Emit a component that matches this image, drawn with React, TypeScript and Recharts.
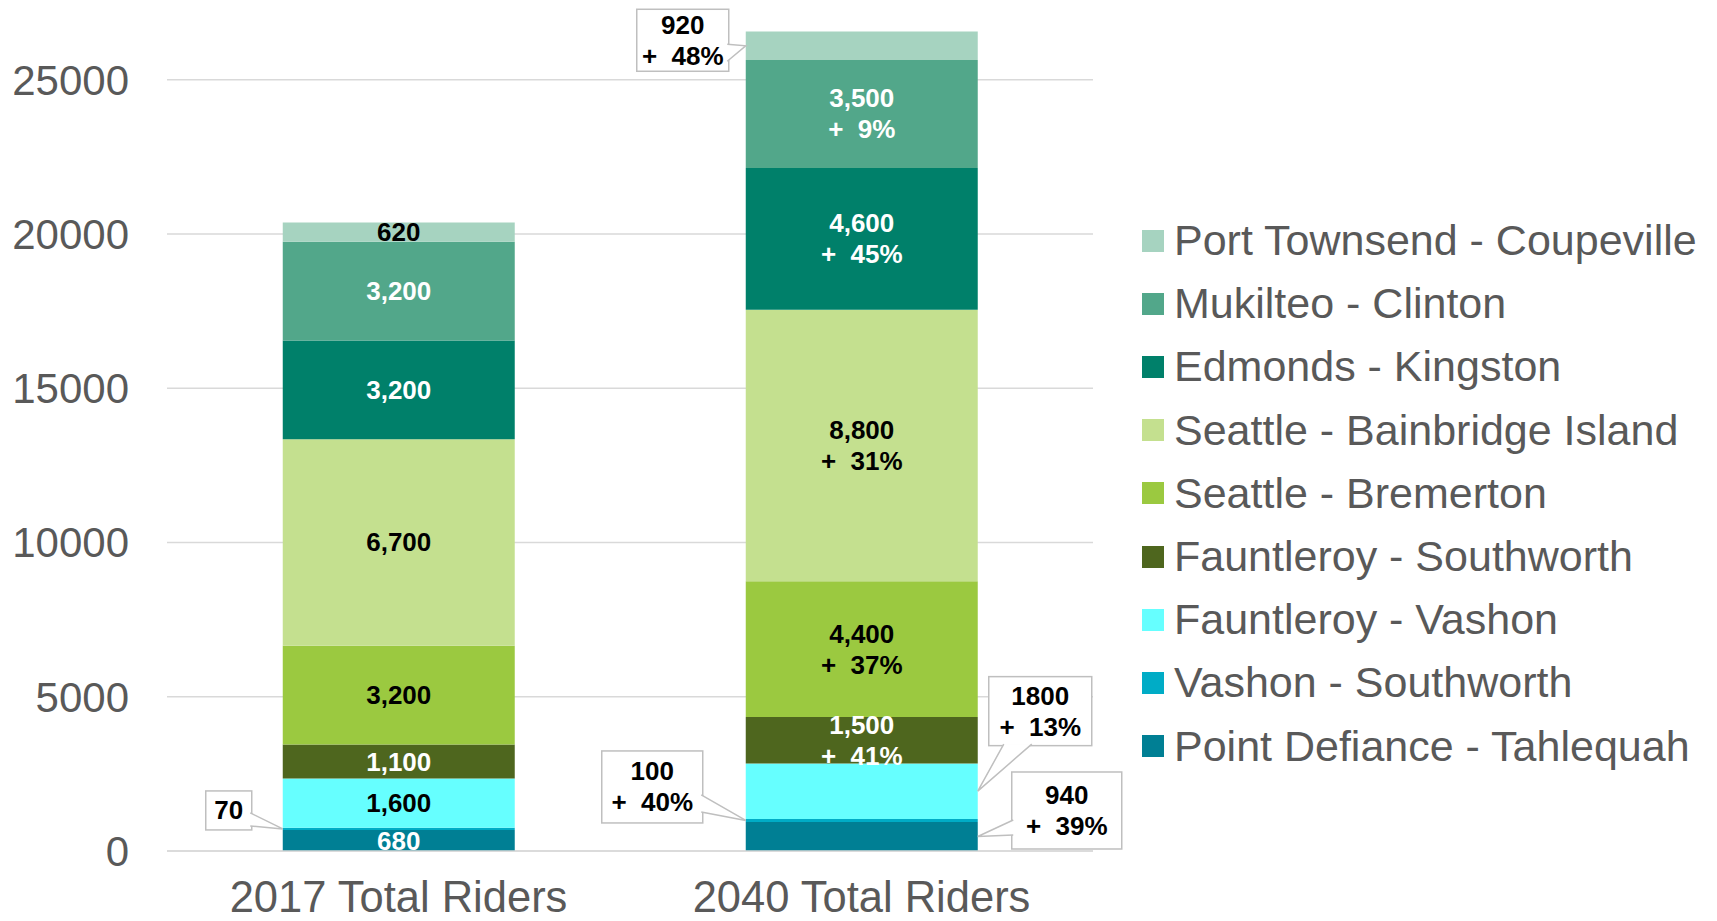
import { BarChart, Bar, XAxis, YAxis, CartesianGrid, LabelList } from "recharts";

// ridership per route, [2017, 2040]
const categories = ["2017 Total Riders", "2040 Total Riders"];
const pointDefiance = [680, 940];
const vashonSouthworth = [70, 100];
const fauntleroyVashon = [1600, 1800];
const fauntleroySouthworth = [1100, 1500];
const seattleBremerton = [3200, 4400];
const seattleBainbridge = [6700, 8800];
const edmondsKingston = [3200, 4600];
const mukilteoClinton = [3200, 3500];
const portTownsend = [620, 920];
// growth 2017 -> 2040 (%), same order as the series below
const growth2040 = [39, 40, 13, 41, 37, 31, 45, 9, 48];
const yTicks = [0, 5000, 10000, 15000, 20000, 25000];

const FONT = "'Liberation Sans', Arial, sans-serif";
const GREY = "#595959";
const BORDER = "#BFBFBF";
const GRID = "#D9D9D9";

const SERIES = [
  { key: "pointDefiance", name: "Point Defiance - Tahlequah", color: "#007F94", text: "#fff", values: pointDefiance },
  { key: "vashonSouthworth", name: "Vashon - Southworth", color: "#00ACC6", text: "#fff", values: vashonSouthworth },
  { key: "fauntleroyVashon", name: "Fauntleroy - Vashon", color: "#66FFFF", text: "#000", values: fauntleroyVashon },
  { key: "fauntleroySouthworth", name: "Fauntleroy - Southworth", color: "#4E661E", text: "#fff", values: fauntleroySouthworth },
  { key: "seattleBremerton", name: "Seattle - Bremerton", color: "#9BC940", text: "#000", values: seattleBremerton },
  { key: "seattleBainbridge", name: "Seattle - Bainbridge Island", color: "#C4E08F", text: "#000", values: seattleBainbridge },
  { key: "edmondsKingston", name: "Edmonds - Kingston", color: "#00806A", text: "#fff", values: edmondsKingston },
  { key: "mukilteoClinton", name: "Mukilteo - Clinton", color: "#52A78A", text: "#fff", values: mukilteoClinton },
  { key: "portTownsend", name: "Port Townsend - Coupeville", color: "#A6D3C0", text: "#000", values: portTownsend },
];

const data = categories.map((name, i) => {
  const row: Record<string, number | string> = { name };
  SERIES.forEach((s) => (row[s.key] = s.values[i]));
  return row;
});

// callout boxes for the thin segments: side of the bar, gap to bar edge,
// vertical offset of the box centre, box size, and where the pointer leaves the box
type Callout = { side: "left" | "right"; gap: number; dy: number; w: number; h: number; edge: "side" | "bottom"; base: [number, number] };
const CALLOUTS: Record<string, Callout> = {
  "vashonSouthworth-0": { side: "left", gap: 31, dy: -18.5, w: 46, h: 39, edge: "side", base: [22, 35] },
  "vashonSouthworth-1": { side: "left", gap: 43, dy: -33.5, w: 101, h: 72, edge: "side", base: [44, 61] },
  "fauntleroyVashon-1": { side: "right", gap: 11, dy: -80, w: 103, h: 69, edge: "bottom", base: [15, 43] },
  "pointDefiance-1": { side: "right", gap: 34, dy: -26, w: 110, h: 77, edge: "side", base: [48, 63] },
  "portTownsend-1": { side: "left", gap: 17, dy: -5.5, w: 92, h: 62, edge: "side", base: [35, 52] },
};

const LINE = 31;
const fmt = (v: number) => v.toLocaleString("en-US");

function Lines({ cx, cy, lines, fill }: { cx: number; cy: number; lines: string[]; fill: string }) {
  const top = cy - ((lines.length - 1) * LINE) / 2;
  return (
    <text x={cx} textAnchor="middle" fontFamily={FONT} fontWeight="bold" fontSize={26} fill={fill} style={{ whiteSpace: "pre" }}>
      {lines.map((l, i) => (
        <tspan key={i} x={cx} y={top + i * LINE} dominantBaseline="central">
          {l}
        </tspan>
      ))}
    </text>
  );
}

function renderLabel(props: any, si: number) {
  const s = SERIES[si];
  const x = Number(props.x);
  const y = Number(props.y);
  const width = Number(props.width);
  const height = Number(props.height);
  const index = props.index as number;
  const v = s.values[index];
  const pct = `+  ${growth2040[si]}%`;
  const c = CALLOUTS[`${s.key}-${index}`];

  if (c) {
    const lines = index === 1 ? [String(v), pct] : [String(v)];
    const ax = c.side === "left" ? x : x + width;
    const ay = y + height / 2;
    const bx = c.side === "left" ? ax - c.gap - c.w : ax + c.gap;
    const by = ay + c.dy - c.h / 2;
    let p1: [number, number];
    let p2: [number, number];
    if (c.edge === "side") {
      const ex = c.side === "left" ? bx + c.w - 1.5 : bx + 1.5;
      p1 = [ex, by + c.base[0]];
      p2 = [ex, by + c.base[1]];
    } else {
      const ey = by + c.h - 1.5;
      p1 = [bx + c.base[0], ey];
      p2 = [bx + c.base[1], ey];
    }
    return (
      <g>
        <rect x={bx} y={by} width={c.w} height={c.h} fill="#fff" stroke={BORDER} strokeWidth={1.5} />
        <path d={`M${p1[0]},${p1[1]} L${ax},${ay} L${p2[0]},${p2[1]}`} fill="#fff" stroke={BORDER} strokeWidth={1.5} />
        <Lines cx={bx + c.w / 2} cy={by + c.h / 2} lines={lines} fill="#000" />
      </g>
    );
  }
  if (s.key === "vashonSouthworth") return null;
  const lines = index === 1 ? [fmt(v), pct] : [fmt(v)];
  return <Lines cx={x + width / 2} cy={y + height / 2} lines={lines} fill={s.text} />;
}

function RouteLegend() {
  return (
    <div style={{ position: "absolute", left: 1142, top: 209, fontFamily: FONT, fontSize: 43, color: GREY }}>
      {[...SERIES].reverse().map((s) => (
        <div key={s.key} style={{ display: "flex", alignItems: "center", height: 63.2, whiteSpace: "nowrap" }}>
          <span style={{ width: 22, height: 22, background: s.color, marginRight: 10, flex: "none" }} />
          <span>{s.name}</span>
        </div>
      ))}
    </div>
  );
}

export default function App() {
  return (
    <div style={{ position: "absolute", left: 0, top: 0, width: 1717, height: 921, background: "#fff" }}>
      <BarChart
        width={1717}
        height={921}
        data={data}
        margin={{ top: 18, right: 624, left: 0, bottom: 0 }}
        barCategoryGap="25%"
      >
        <CartesianGrid stroke={GRID} strokeWidth={1.5} vertical={false} syncWithTicks />
        <XAxis
          dataKey="name"
          height={70}
          axisLine={{ stroke: GRID, strokeWidth: 1.5 }}
          tickLine={false}
          tickSize={0}
          tickMargin={30}
          tick={{ fontSize: 43.5, fill: GREY, fontFamily: FONT }}
        />
        <YAxis
          width={167}
          domain={[0, 27000]}
          ticks={yTicks}
          axisLine={false}
          tickLine={false}
          tickSize={0}
          tickMargin={38}
          tick={{ fontSize: 42, fill: GREY, fontFamily: FONT }}
        />
        {SERIES.map((s, si) => (
          <Bar key={s.key} dataKey={s.key} name={s.name} stackId="riders" fill={s.color} isAnimationActive={false}>
            <LabelList dataKey={s.key} content={(p: any) => renderLabel(p, si)} />
          </Bar>
        ))}
      </BarChart>
      <RouteLegend />
    </div>
  );
}
